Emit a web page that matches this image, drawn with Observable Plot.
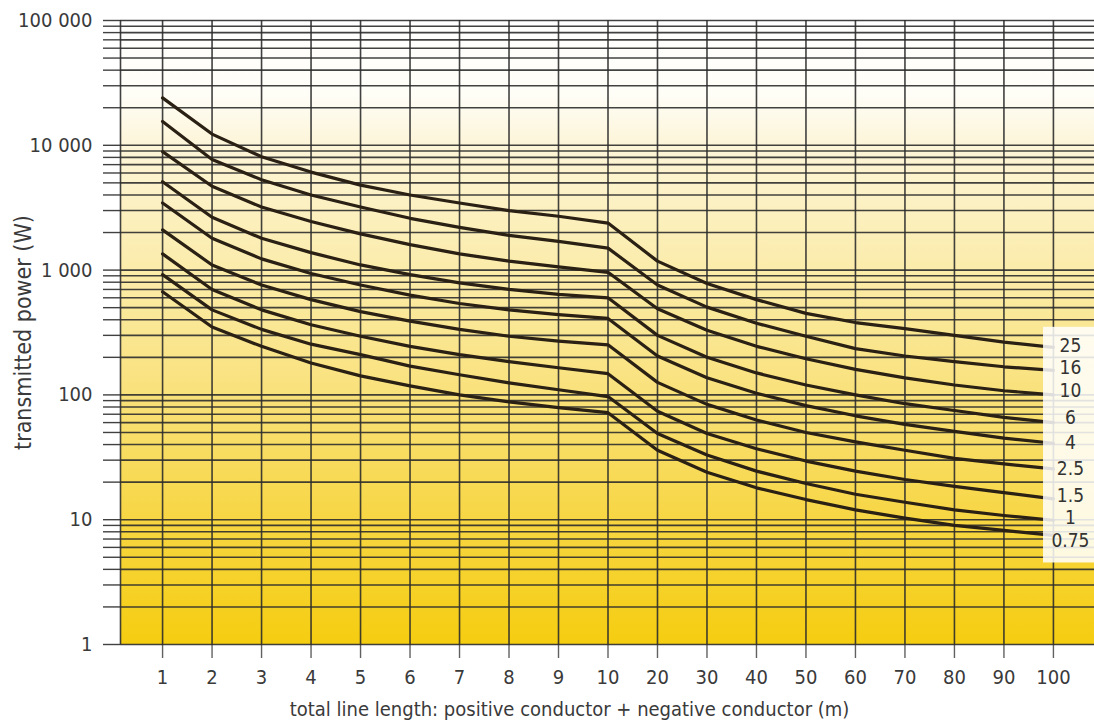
<!DOCTYPE html>
<html><head><meta charset="utf-8">
<script src="https://cdn.jsdelivr.net/npm/d3@7"></script>
<script src="https://cdn.jsdelivr.net/npm/@observablehq/plot@0.6"></script>
<style>
html,body{margin:0;padding:0;background:#fff;}
#chart{width:1094px;height:727px;overflow:hidden;}
</style></head><body><div id="chart"></div>
<script>
// x categories: total line length (m)
const lengths = [1,2,3,4,5,6,7,8,9,10,20,30,40,50,60,70,80,90,100];
// cable cross-sections (mm²) — curve labels
const sections = ["25","16","10","6","4","2.5","1.5","1","0.75"];
// where each curve label sits on the power axis (W)
const labelPower = [249,166,108,66,41.6,25.7,15.6,10.4,6.8];
// transmitted power (W) per cross-section, read at each length
const p25   = [24000,12300,8100,6100,4800,4000,3450,3000,2700,2380,1180,780,580,450,380,340,300,265,240];
const p16   = [15500,7700,5300,4000,3200,2600,2200,1900,1700,1500,760,505,375,295,235,205,185,168,157];
const p10   = [8900,4700,3200,2450,1950,1600,1350,1180,1060,960,490,330,245,195,160,137,120,108,100];
const p6    = [5100,2650,1800,1380,1100,920,790,700,640,600,300,200,150,120,100,85,75,66,60];
const p4    = [3450,1800,1230,940,760,630,540,480,440,410,205,137,103,82,68,58,51,45,41];
const p2_5  = [2100,1100,760,580,465,390,335,295,270,252,126,84,63,50,42,36,31,28,25.5];
const p1_5  = [1350,700,480,365,295,245,210,185,165,148,74,49,37,29.5,24.5,21,18.5,16.5,14.7];
const p1    = [920,480,335,255,210,170,145,125,110,97,49,33,24.5,19.5,16,13.8,12,10.8,9.9];
const p0_75 = [670,350,245,180,142,118,100,88,79,72,36,24,18,14.5,12,10.3,9,8.2,7.5];
// y axis labelled ticks
const yMajor = [1,10,100,1000,10000,100000];

const series = [p25,p16,p10,p6,p4,p2_5,p1_5,p1,p0_75];
const data = series.flatMap((vals, s) => vals.map((v, i) => ({section: sections[s], length: lengths[i], power: v})));
const lastLen = lengths[lengths.length - 1];
const ends = data.filter(d => d.length === lastLen);
const labels = sections.map((s, i) => ({section: s, length: lastLen, power: labelPower[i]}));
const yGrid = yMajor.flatMap(p => p === 100000 ? [p] : d3.range(1, 10).map(m => m * p));
const fmt = d => d3.format(",")(d).replace(/,/g, " ");

const xDomain = [0.15, 10, 108.3];
const box = [{
  x1: lastLen - 2, x2: xDomain[2],
  y1: d3.max(ends, d => d.power) * 1.45,
  y2: d3.min(ends, d => d.power) * 0.6
}];

const font = '"Liberation Sans Narrow","DejaVu Sans Condensed",Roboto,sans-serif';
const grid = "#2c2c2c";

const svg = Plot.plot({
  width: 1094,
  height: 727,
  marginLeft: 120,
  marginRight: 0,
  marginTop: 20,
  marginBottom: 83,
  style: {fontFamily: font, fontSize: "20px", background: "transparent", color: "#3a3a3a"},
  x: {type: "linear", domain: xDomain, range: [120, 607.5, 1094]},
  y: {type: "log", domain: [1, 100000]},
  marks: [
    Plot.frame({fill: "url(#bgGrad)", stroke: "none"}),
    Plot.gridY({ticks: yGrid, stroke: grid, strokeOpacity: 0.9, strokeWidth: 1.6}),
    Plot.gridX({ticks: lengths, stroke: grid, strokeOpacity: 0.9, strokeWidth: 1.6}),
    Plot.ruleX([xDomain[0]], {stroke: grid, strokeOpacity: 0.9, strokeWidth: 1.6}),
    Plot.axisY({ticks: yGrid, tickSize: 17, tickPadding: 11, tickFormat: d => yMajor.includes(d) ? fmt(d) : "",
      stroke: grid, strokeOpacity: 0.9, strokeWidth: 1.4, color: "#3a3a3a", fontSize: 20, label: null}),
    Plot.axisY({ticks: [], label: "transmitted power (W)", labelAnchor: "center", labelArrow: "none",
      labelOffset: 106, color: "#3a3a3a", fontSize: 23}),
    Plot.axisX({ticks: lengths, tickSize: 14, tickPadding: 11, tickFormat: d => String(d),
      stroke: grid, strokeOpacity: 0.75, strokeWidth: 1.4, color: "#3a3a3a", fontSize: 20,
      label: "total line length: positive conductor + negative conductor (m)", labelAnchor: "center", labelArrow: "none", labelOffset: 71}),
    Plot.line(data, {x: "length", y: "power", z: "section", stroke: "#2a2013", strokeWidth: 3.2, strokeLinejoin: "round"}),
    Plot.rect(box, {x1: "x1", x2: "x2", y1: "y1", y2: "y2", fill: "#ffffff", fillOpacity: 0.85}),
    Plot.text(labels, {x: "length", y: "power", text: "section", dx: 17, fill: "#333", fontSize: 19, fontFamily: font})
  ]
});

const defs = d3.select(svg).insert("defs", ":first-child");
const g = defs.append("linearGradient").attr("id", "bgGrad").attr("x1", 0).attr("y1", 0).attr("x2", 0).attr("y2", 1);
[[0, "#ffffff"], [0.12, "#fefdf6"], [0.2, "#fdf5d8"], [0.4, "#fbecaa"], [0.6, "#f9e17a"], [0.8, "#f7d643"], [1, "#f5cd10"]]
  .forEach(([o, c]) => g.append("stop").attr("offset", o).attr("stop-color", c));

const xl = d3.select(svg).select('g[aria-label="x-axis label"]');
if (!xl.empty()) xl.attr("transform", (xl.attr("transform") || "") + " translate(-38,0)");

document.getElementById("chart").append(svg);
</script></body></html>
